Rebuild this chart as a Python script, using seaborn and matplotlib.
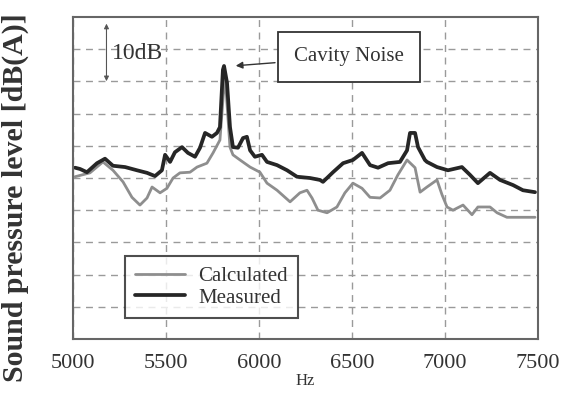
import matplotlib.pyplot as plt
import numpy as np
import pandas as pd
import seaborn as sns

# values (Hz, dB(A)); the axis has no dB labels
measured_hz = [5011, 5038, 5075, 5129, 5172, 5215, 5280, 5344, 5398, 5441,
               5478, 5495, 5522, 5548, 5586, 5618, 5656, 5683, 5710, 5747,
               5774, 5790, 5806, 5812, 5828, 5844, 5860, 5887, 5914, 5935,
               5952, 5978, 6016, 6043, 6097, 6151, 6204, 6274, 6328, 6344,
               6398, 6452, 6505, 6554, 6597, 6640, 6694, 6758, 6796, 6812,
               6839, 6855, 6892, 6903, 6957, 7016, 7091, 7134, 7177, 7242,
               7296, 7366, 7419, 7484]
measured_db = [66.6, 66.4, 65.9, 67.3, 68.0, 66.9, 66.7, 66.2, 65.8, 65.3,
               66.2, 68.6, 67.5, 69.0, 69.8, 68.9, 68.3, 69.7, 72.0, 71.4,
               72.0, 72.9, 81.8, 82.4, 79.8, 72.9, 69.8, 69.7, 71.2, 71.4,
               69.3, 68.3, 68.6, 67.5, 67.0, 66.2, 65.2, 65.0, 64.7, 64.4,
               65.9, 67.3, 67.8, 68.9, 67.0, 66.6, 67.3, 67.5, 69.3, 72.0,
               72.0, 69.8, 67.8, 67.5, 66.7, 66.2, 66.7, 65.5, 64.2, 65.8,
               64.7, 63.9, 63.1, 62.8]

calculated_hz = [5011, 5091, 5161, 5215, 5269, 5317, 5360, 5398, 5425, 5468,
                 5505, 5538, 5575, 5629, 5667, 5720, 5753, 5790, 5806, 5817,
                 5844, 5860, 5898, 5952, 6005, 6043, 6097, 6167, 6220, 6258,
                 6285, 6317, 6366, 6419, 6462, 6505, 6554, 6597, 6651, 6704,
                 6747, 6796, 6839, 6866, 6903, 6957, 6984, 7011, 7043, 7097,
                 7145, 7177, 7242, 7280, 7333, 7403, 7484]
calculated_db = [65.2, 65.8, 67.5, 66.2, 64.4, 62.0, 60.8, 61.9, 63.6, 62.7,
                 63.4, 65.0, 65.8, 65.9, 66.7, 67.3, 68.9, 70.9, 77.1, 81.1,
                 69.8, 68.6, 67.8, 66.7, 65.9, 64.2, 63.1, 61.3, 62.7, 63.1,
                 61.9, 60.0, 59.6, 60.5, 62.7, 64.2, 63.4, 62.0, 61.9, 63.1,
                 65.5, 67.8, 66.6, 62.8, 63.6, 64.7, 62.4, 60.5, 60.0, 60.8,
                 59.3, 60.5, 60.5, 59.6, 58.9, 58.9, 58.9]

x_ticks = [5000, 5500, 6000, 6500, 7000, 7500]
y_grid = [45, 50, 55, 60, 65, 70, 75, 80, 85]

calc = pd.DataFrame({"Hz": calculated_hz, "dB": calculated_db})
meas = pd.DataFrame({"Hz": measured_hz, "dB": measured_db})

sns.set_theme(style="white")
plt.rcParams["font.family"] = ["Liberation Serif", "DejaVu Serif"]

fig = plt.figure(figsize=(5.73, 3.93), dpi=100)
ax = fig.add_axes([0.1274, 0.1374, 0.8115, 0.8193])

sns.lineplot(data=calc, x="Hz", y="dB", color="#8e8e8e", lw=2.0,
             label="Calculated", ax=ax)
sns.lineplot(data=meas, x="Hz", y="dB", color="#262626", lw=2.7,
             label="Measured", ax=ax)

ax.set_xlim(5000, 7500)
ax.set_ylim(40, 90)
ax.set_xticks(x_ticks)
ax.set_yticks(y_grid)
ax.set_yticklabels([])
ax.grid(True, ls=(0, (5, 4)), color="#9a9a9a", lw=1.0)
ax.tick_params(axis="both", length=0)
ax.tick_params(axis="x", labelsize=16, pad=11, labelcolor="#333333")
for s in ax.spines.values():
    s.set_color("#666666")
    s.set_linewidth(1.5)

ax.set_xlabel("Hz", fontsize=12, labelpad=0, color="#333333")
ax.set_ylabel("Sound pressure level [dB(A)]", fontsize=21.5,
              fontweight="bold", color="#333333")
ax.yaxis.set_label_coords(-0.095, 0.44)

# 10 dB scale marker
ax.annotate("", xy=(5180, 79.6), xytext=(5180, 89.4),
            arrowprops=dict(arrowstyle="<|-|>", lw=0.8, color="#555555",
                            mutation_scale=7))
ax.text(5210, 84.4, "10dB", fontsize=17, va="center", color="#333333")

ax.annotate("Cavity Noise", xy=(5860, 82.4), xytext=(6484, 83.8),
            fontsize=15, ha="center", va="center", color="#333333",
            bbox=dict(boxstyle="square,pad=0.75", fc="white",
                      ec="#333333", lw=1.3),
            arrowprops=dict(arrowstyle="-|>", color="#333333", lw=1.0,
                            mutation_scale=10))

leg = ax.legend(loc="lower left", bbox_to_anchor=(0.112, 0.065),
                fontsize=15, frameon=True, fancybox=False, edgecolor="#222222",
                handlelength=2.4, handletextpad=0.6, borderpad=0.5,
                labelspacing=0.1, borderaxespad=0)
leg.get_frame().set_linewidth(1.5)
for t in leg.get_texts():
    t.set_color("#333333")

fig.savefig("out.png", dpi=100)
